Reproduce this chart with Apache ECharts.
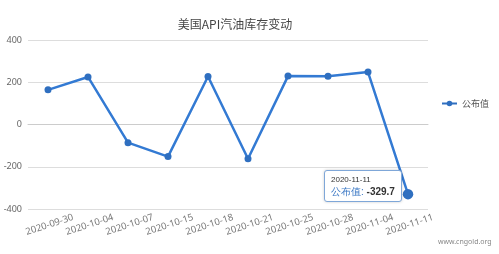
<!DOCTYPE html>
<html><head><meta charset="utf-8">
<script src="https://cdn.jsdelivr.net/npm/echarts@6/dist/echarts.min.js"></script>
<style>html,body{margin:0;padding:0;background:#fff}#c{width:499px;height:254px}</style>
</head><body><div id="c"></div>
<script>
var categories = ['2020-09-30','2020-10-04','2020-10-07','2020-10-15','2020-10-18','2020-10-21','2020-10-25','2020-10-28','2020-11-04','2020-11-11'];
var values = [164, 225, -86, -152, 227, -162, 229, 228, 248, -329.7];
var yTicks = {min: -400, max: 400, interval: 200};
var seriesName = '公布值';

var chart = echarts.init(document.getElementById('c'));
chart.setOption({
  animation: false,
  title: {text: '美国API汽油库存变动', left: 230, top: 13, textAlign: 'center',
    textStyle: {fontSize: 12, fontWeight: 'normal', color: '#444', fontFamily: 'Noto Sans CJK SC'}},
  legend: {data: [seriesName], orient: 'vertical', left: 436, top: 94, itemWidth: 15, itemHeight: 7, itemGap: 4,
    textStyle: {fontSize: 9, color: '#555', fontFamily: 'Noto Sans CJK SC'}},
  grid: {left: 28, right: 71, top: 40, bottom: 45},
  tooltip: {trigger: 'item', backgroundColor: '#fff', borderColor: '#7fa7d8', borderWidth: 1,
    padding: [3, 6], extraCssText: 'border-radius:3px;box-shadow:0 0 3px rgba(0,0,0,0.2);',
    position: function (pt) { return [pt[0] - 84, pt[1] - 24]; },
    formatter: function (p) {
      return '<div style="font-size:8px;color:#333;line-height:11px">' + p.name + '</div>' +
        '<div style="font-size:10px;line-height:13px"><span style="color:#3a77c4">' + p.seriesName +
        ':</span> <b style="color:#333">' + p.value + '</b></div>';
    }},
  xAxis: {type: 'category', data: categories, boundaryGap: true,
    axisLine: {lineStyle: {color: '#ccc'}}, axisTick: {show: false},
    axisLabel: {interval: 0, rotate: 18, align: 'center', verticalAlign: 'top', fontSize: 9.5, color: '#777', margin: 11, fontFamily: 'Noto Sans'}},
  yAxis: {type: 'value', min: yTicks.min, max: yTicks.max, interval: yTicks.interval,
    axisLine: {show: false}, axisTick: {show: false},
    axisLabel: {fontSize: 9, color: '#666', margin: 6, fontFamily: 'Noto Sans'},
    splitLine: {lineStyle: {color: '#ddd'}}},
  series: [{name: seriesName, type: 'line', data: values, symbol: 'circle', symbolSize: 7,
    itemStyle: {color: '#2f6fc0'}, lineStyle: {width: 2.5, color: '#2f6fc0'},
    emphasis: {scale: 1.5, itemStyle: {color: '#2f6fc0'}}}],
  graphic: [{type: 'text', left: 438, top: 238, style: {text: 'www.cngold.org', fontSize: 7, fill: '#888', fontFamily: 'Noto Sans'}}]
});
chart.dispatchAction({type: 'showTip', seriesIndex: 0, dataIndex: 9});
chart.dispatchAction({type: 'highlight', seriesIndex: 0, dataIndex: 9});
</script></body></html>
